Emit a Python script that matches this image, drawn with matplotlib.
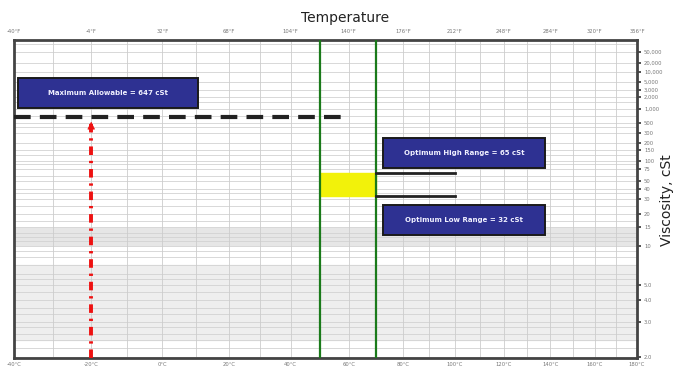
# Viscosity-temperature chart (ASTM D341 style scales)

import matplotlib.pyplot as plt
import numpy as np

temp_c_ticks = [-40, -20, 0, 20, 40, 60, 80, 100, 120, 140, 160, 180]
temp_f_labels = ['-40°F', '-4°F', '32°F', '68°F', '104°F', '140°F', '176°F',
                 '212°F', '248°F', '284°F', '320°F', '356°F']
temp_c_labels = ['-40°C', '-20°C', '0°C', '20°C', '40°C', '60°C', '80°C',
                 '100°C', '120°C', '140°C', '160°C', '180°C']
temp_grid = np.arange(-40, 181, 10)

visc_ticks = [50000, 20000, 10000, 5000, 3000, 2000, 1000, 500, 300, 200, 150,
              100, 75, 50, 40, 30, 20, 15, 10, 5.0, 4.0, 3.0, 2.0]
visc_labels = ['50,000', '20,000', '10,000', '5,000', '3,000', '2,000', '1,000',
               '500', '300', '200', '150', '100', '75', '50', '40', '30', '20',
               '15', '10', '5.0', '4.0', '3.0', '2.0']
visc_grid = [2.0, 2.2, 2.4, 2.6, 2.8, 3.0, 3.3, 3.6, 4.0, 4.5, 5.0, 5.5, 6.0, 7.0,
             8.0, 9.0, 10, 11, 12, 13, 15, 17, 20, 25, 30, 35, 40, 50, 60, 75, 90,
             100, 125, 150, 200, 300, 400, 500, 700, 1000, 1500, 2000, 3000, 5000,
             10000, 20000, 50000, 100000]

max_allowable = 647
max_temp_range = [-40, 60]
arrow_temp = -20
opt_high = 65
opt_low = 32
opt_temp = [50, 70]
opt_line_end = 100


def t_fwd(t):
    return np.log10(np.asarray(t, float) + 273.15)


def t_inv(x):
    return 10 ** np.asarray(x, float) - 273.15


def v_fwd(v):
    v = np.clip(np.asarray(v, float), 0.31, None)
    return np.log10(np.log10(v + 0.7))


def v_inv(y):
    return 10 ** (10 ** np.asarray(y, float)) - 0.7


fig = plt.figure(figsize=(6.77, 3.67), dpi=100)
ax = fig.add_axes([0.0207, 0.0245, 0.9203, 0.8665])
ax.set_xscale('function', functions=(t_fwd, t_inv))
ax.set_yscale('function', functions=(v_fwd, v_inv))
ax.set_xlim(-40, 180)
ax.set_ylim(1.98, 140000)

# light bands + grid
ax.axhspan(10.2, 14.6, color='#e6e6e6', zorder=0)
ax.axhspan(2.4, 7.0, color='#eeeeee', zorder=0)
for v in visc_grid:
    ax.axhline(v, color='#d2d2d2', lw=0.6, zorder=1)
for t in temp_grid:
    ax.axvline(t, color='#cccccc', lw=0.6, zorder=1)

# maximum allowable line and arrow
ax.plot(max_temp_range, [max_allowable, max_allowable], color='#222222', lw=3,
        dashes=(4, 2.2), zorder=3)
ax.plot([arrow_temp, arrow_temp], [1.98, 600], color='#ee1111', lw=2.8,
        dashes=(2.2, 1.5, 0.6, 1.5), zorder=4)
ax.annotate('', xy=(arrow_temp, 520), xytext=(arrow_temp, 420),
            arrowprops=dict(arrowstyle='-|>', color='#ee1111', lw=0.5,
                            mutation_scale=12), zorder=4)

# optimum range
ax.axvline(opt_temp[0], color='#1a7a1a', lw=1.6, zorder=3)
ax.axvline(opt_temp[1], color='#1a7a1a', lw=1.6, zorder=3)
ax.fill_between(opt_temp, opt_low, opt_high, color='#f2f20a', zorder=2)
ax.plot([opt_temp[1], opt_line_end], [opt_high, opt_high], color='#222222', lw=2, zorder=3)
ax.plot([opt_temp[1], opt_line_end], [opt_low, opt_low], color='#222222', lw=2, zorder=3)


def label_box(x0, y0, w, h, txt):
    r = plt.Rectangle((x0, y0), w, h, transform=fig.transFigure, fc='#2e3192',
                      ec='#1a1a1a', lw=1.4, zorder=5)
    fig.patches.append(r)
    fig.text(x0 + w / 2, y0 + h / 2, txt, color='#f0f0ff', fontsize=5,
             fontweight='semibold', ha='center', va='center', zorder=6)


label_box(18 / 677, 1 - 108 / 367, 180 / 677, 30 / 367, f'Maximum Allowable = {max_allowable} cSt')
label_box(383 / 677, 1 - 168 / 367, 162 / 677, 30 / 367, f'Optimum High Range = {opt_high} cSt')
label_box(383 / 677, 1 - 235 / 367, 162 / 677, 30 / 367, f'Optimum Low Range = {opt_low} cSt')

# axes styling
for s in ax.spines.values():
    s.set_color('#444444')
    s.set_linewidth(2)
ax.yaxis.tick_right()
ax.set_yticks(visc_ticks)
ax.set_yticklabels(visc_labels)
ax.yaxis.set_minor_locator(plt.NullLocator())
ax.tick_params(axis='y', labelsize=3.8, labelcolor='#777777', color='#333333',
               length=3, width=1.2, pad=2)
ax.set_xticks(temp_c_ticks)
ax.set_xticklabels(temp_c_labels)
ax.xaxis.set_minor_locator(plt.NullLocator())
ax.tick_params(axis='x', labelsize=3.8, labelcolor='#777777', length=0, pad=3)

ax2 = ax.twiny()
ax2.set_xscale('function', functions=(t_fwd, t_inv))
ax2.set_xlim(-40, 180)
ax2.set_xticks(temp_c_ticks)
ax2.set_xticklabels(temp_f_labels)
ax2.xaxis.set_minor_locator(plt.NullLocator())
ax2.tick_params(axis='x', labelsize=3.8, labelcolor='#777777', length=0, pad=4)
for s in ax2.spines.values():
    s.set_visible(False)

fig.text(0.51, 0.95, 'Temperature', fontsize=10, ha='center', va='center', color='#222222')
fig.text(0.985, 0.455, 'Viscosity, cSt', fontsize=10, rotation=90, ha='center',
         va='center', color='#222222')

plt.savefig('out.png', dpi=100)
